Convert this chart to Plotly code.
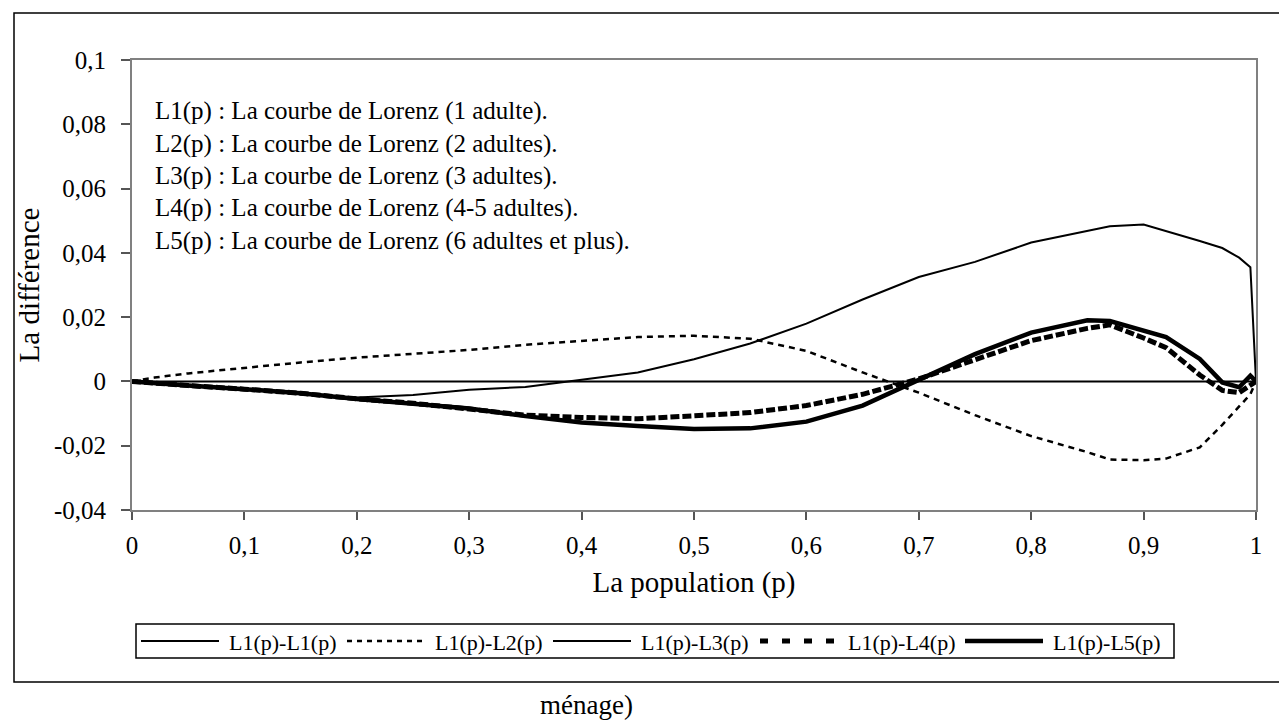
import plotly.graph_objects as go

# Population share (p)
p = [0, 0.02, 0.05, 0.1, 0.15, 0.2, 0.25, 0.3, 0.35, 0.4, 0.45, 0.5, 0.55, 0.6,
     0.65, 0.7, 0.75, 0.8, 0.85, 0.87, 0.9, 0.92, 0.95, 0.97, 0.985, 0.995, 1]

# Différences entre courbes de Lorenz
l1_l1 = [0] * len(p)
l1_l2 = [0, 0.0012, 0.0025, 0.0043, 0.0059, 0.0074, 0.0087, 0.0098, 0.0114, 0.0127,
         0.0138, 0.0142, 0.0133, 0.0095, 0.0028, -0.0035, -0.0105, -0.017, -0.022,
         -0.0243, -0.0245, -0.024, -0.0205, -0.0135, -0.008, -0.004, 0]
l1_l3 = [0, -0.0003, -0.0015, -0.0025, -0.0040, -0.005, -0.0042, -0.0026, -0.0017,
         0.0006, 0.0028, 0.0069, 0.0118, 0.018, 0.0255, 0.0325, 0.0372, 0.0432, 0.047,
         0.0483, 0.0488, 0.0468, 0.0437, 0.0415, 0.0385, 0.0355, 0]
l1_l4 = [0, -0.0004, -0.0013, -0.0024, -0.0037, -0.0054, -0.0068, -0.0086, -0.0105,
         -0.0112, -0.0116, -0.0107, -0.0097, -0.0075, -0.004, 0.0008, 0.0068, 0.0127,
         0.0165, 0.0176, 0.0135, 0.0105, 0.002, -0.0028, -0.0035, -0.0012, 0]
l1_l5 = [0, -0.0004, -0.0013, -0.0024, -0.0037, -0.0055, -0.0068, -0.0084, -0.0108,
         -0.0128, -0.0139, -0.0148, -0.0146, -0.0125, -0.0075, 0.0005, 0.0085, 0.0152,
         0.019, 0.0188, 0.016, 0.0138, 0.007, -0.0003, -0.0018, 0.0018, 0]

series_names = ['L1(p)-L1(p)', 'L1(p)-L2(p)', 'L1(p)-L3(p)', 'L1(p)-L4(p)', 'L1(p)-L5(p)']

x_ticks = [0, 0.1, 0.2, 0.3, 0.4, 0.5, 0.6, 0.7, 0.8, 0.9, 1]
x_tick_text = ['0', '0,1', '0,2', '0,3', '0,4', '0,5', '0,6', '0,7', '0,8', '0,9', '1']
y_ticks = [-0.04, -0.02, 0, 0.02, 0.04, 0.06, 0.08, 0.1]
y_tick_text = ['-0,04', '-0,02', '0', '0,02', '0,04', '0,06', '0,08', '0,1']

notes = [
    'L1(p) : La courbe de Lorenz (1 adulte).',
    'L2(p) : La courbe de Lorenz (2 adultes).',
    'L3(p) : La courbe de Lorenz (3 adultes).',
    'L4(p) : La courbe de Lorenz (4-5 adultes).',
    'L5(p) : La courbe de Lorenz (6 adultes et plus).',
]

FONT = 'Liberation Serif, Times New Roman, serif'
W, H = 1287, 721
PL, PR, PT, PB = 124, 1248, 52, 502   # plot area in pixels


def px(x):
    return (x - PL) / (PR - PL)


def py(y):
    return (PB - y) / (PB - PT)


styles = [
    dict(color='black', width=2, dash='solid'),
    dict(color='black', width=2.5, dash='6px,5px'),
    dict(color='black', width=2, dash='solid'),
    dict(color='black', width=5, dash='9px,3px'),
    dict(color='black', width=4.5, dash='solid'),
]
legend_styles = [
    dict(color='black', width=2, dash='solid'),
    dict(color='black', width=2.5, dash='5px,5px'),
    dict(color='black', width=2, dash='solid'),
    dict(color='black', width=5, dash='8px,14px'),
    dict(color='black', width=4.5, dash='solid'),
]

fig = go.Figure()
for name, ys, st in zip(series_names, [l1_l1, l1_l2, l1_l3, l1_l4, l1_l5], styles):
    fig.add_trace(go.Scatter(x=p, y=ys, mode='lines', name=name, line=st,
                             showlegend=False))

shapes = []
annotations = []

# cadre extérieur du graphique
shapes.append(dict(type='rect', xref='paper', yref='paper',
                   x0=px(6), x1=px(1281), y0=py(674), y1=py(5),
                   line=dict(color='black', width=1.5), layer='below'))

# légende dessinée à la main (échantillons longs comme dans Excel)
shapes.append(dict(type='rect', xref='paper', yref='paper',
                   x0=px(128), x1=px(1166), y0=py(650), y1=py(616),
                   line=dict(color='black', width=1.5)))
text_starts = [219, 425, 631, 838, 1043]
for name, st, tx in zip(series_names, legend_styles, text_starts):
    shapes.append(dict(type='line', xref='paper', yref='paper',
                       x0=px(tx - 86), x1=px(tx - 8), y0=py(633), y1=py(633),
                       line=st))
    annotations.append(dict(x=px(tx), y=py(634), xref='paper', yref='paper',
                            text=name, showarrow=False, xanchor='left',
                            yanchor='middle', font=dict(family=FONT, size=22, color='black')))

# texte explicatif dans la zone de tracé
for i, t in enumerate(notes):
    annotations.append(dict(x=px(145), y=py(103 + i * 32.5), xref='paper', yref='paper',
                            text=t, showarrow=False, xanchor='left', yanchor='middle',
                            font=dict(family=FONT, size=25, color='black')))

annotations.append(dict(x=px(578), y=py(697), xref='paper', yref='paper',
                        text='ménage)', showarrow=False, xanchor='center', yanchor='middle',
                        font=dict(family=FONT, size=27, color='black')))

fig.update_layout(
    width=W, height=H,
    margin=dict(l=PL, r=W - PR, t=PT, b=H - PB),
    paper_bgcolor='white', plot_bgcolor='white',
    font=dict(family=FONT, size=25, color='black'),
    shapes=shapes, annotations=annotations,
    showlegend=False,
)
fig.update_xaxes(range=[0, 1], tickvals=x_ticks, ticktext=x_tick_text,
                 ticks='outside', ticklen=8, tickcolor='#555555', tickwidth=1.5,
                 showline=True, linecolor='#808080', linewidth=2, mirror=True,
                 showgrid=False, zeroline=False, ticklabelstandoff=4,
                 title=dict(text='La population (p)', font=dict(size=29), standoff=14))
fig.update_yaxes(range=[-0.04, 0.1], tickvals=y_ticks, ticktext=y_tick_text,
                 ticks='outside', ticklen=9, tickcolor='#555555', tickwidth=1.5,
                 showline=True, linecolor='#808080', linewidth=2, mirror=True,
                 showgrid=False, zeroline=False, ticklabelstandoff=10,
                 title=dict(text='La différence', font=dict(size=29), standoff=6))

fig.write_html('out.html')
